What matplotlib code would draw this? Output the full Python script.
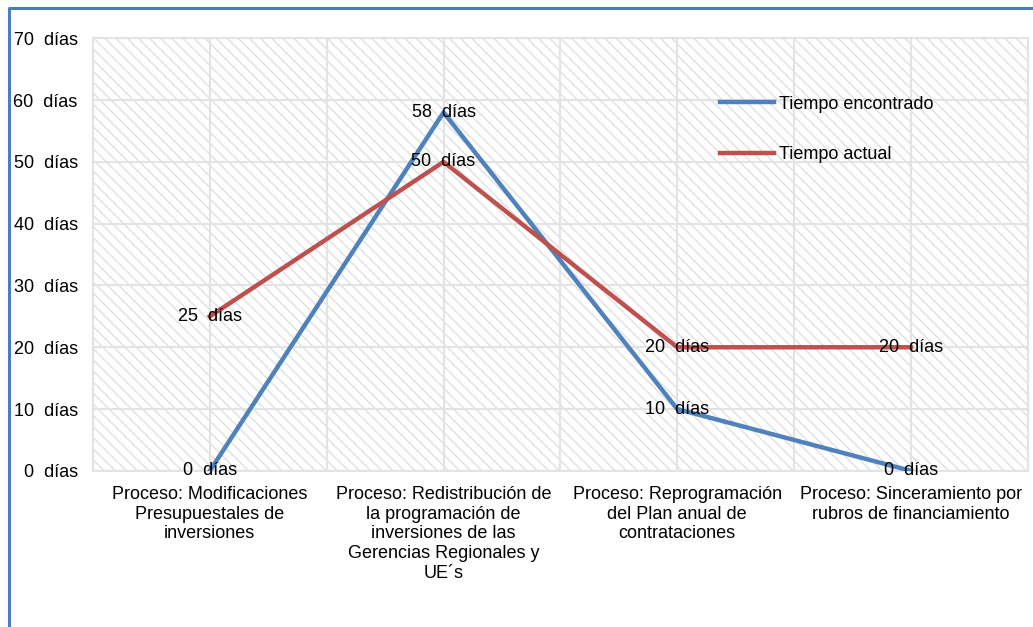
import numpy as np
import matplotlib.pyplot as plt
from matplotlib.patches import Rectangle
from matplotlib.lines import Line2D

plt.rcParams['font.family'] = ['Liberation Sans', 'DejaVu Sans']
plt.rcParams['hatch.linewidth'] = 1.0

# datos
categorias = ['Proceso: Modificaciones\nPresupuestales de\ninversiones',
              'Proceso: Redistribución de\nla programación de\ninversiones de las\nGerencias Regionales y\nUE´s',
              'Proceso: Reprogramación\ndel Plan anual de\ncontrataciones',
              'Proceso: Sinceramiento por\nrubros de financiamiento']
tiempo_encontrado = [0, 58, 10, 0]
tiempo_actual = [25, 50, 20, 20]
yticks = [0, 10, 20, 30, 40, 50, 60, 70]

azul = '#4F81BD'
rojo = '#C0504D'
fs = 13

fig = plt.figure(figsize=(10.33, 6.27), dpi=100)
ax = fig.add_axes([0.090, 0.249, 0.905, 0.690])

x = np.arange(len(categorias))

# fondo rayado
fondo = Rectangle((0, 0), 1, 1, transform=ax.transAxes, facecolor='white',
                  edgecolor='#e0e0e0', linewidth=0, hatch='\\' * 3, zorder=0)
ax.add_patch(fondo)

ax.plot(x, tiempo_encontrado, color=azul, lw=3.2, label='Tiempo encontrado', zorder=3)
ax.plot(x, tiempo_actual, color=rojo, lw=3.2, label='Tiempo actual', zorder=3)

for xi, v in zip(x, tiempo_encontrado):
    ax.text(xi, v, f'{v}  días', ha='center', va='center', fontsize=fs, zorder=4)
for xi, v in zip(x, tiempo_actual):
    ax.text(xi, v, f'{v}  días', ha='center', va='center', fontsize=fs, zorder=4)

ax.set_xlim(-0.5, 3.5)
ax.set_ylim(0, 70)
ax.set_xticks(x)
ax.set_xticklabels(categorias, fontsize=fs, linespacing=1.2)
ax.set_xticks(np.arange(-0.5, 3.6, 1.0), minor=True)
ax.set_yticks(yticks)
ax.set_yticklabels([f'{v}  días' for v in yticks], fontsize=fs)
ax.tick_params(axis='both', which='both', length=0)
ax.tick_params(axis='y', pad=11)
ax.tick_params(axis='x', pad=11)

ax.set_axisbelow(True)
ax.grid(True, which='both', color='#e3e3e3', lw=1.5)
for s in ax.spines.values():
    s.set_color('#e3e3e3')
    s.set_linewidth(1.5)

ax.legend(loc='upper left', bbox_to_anchor=(0.653, 0.905), frameon=False,
          fontsize=fs, handlelength=3.0, labelspacing=1.85, handletextpad=0.3)

# marco azul del grafico
fig.add_artist(Line2D([9 / 1033, 9 / 1033, 1.0], [0.0, 1 - 8 / 627, 1 - 8 / 627],
                      transform=fig.transFigure, color='#4A7EBB', lw=2.2))

fig.savefig('out.png', dpi=100)
